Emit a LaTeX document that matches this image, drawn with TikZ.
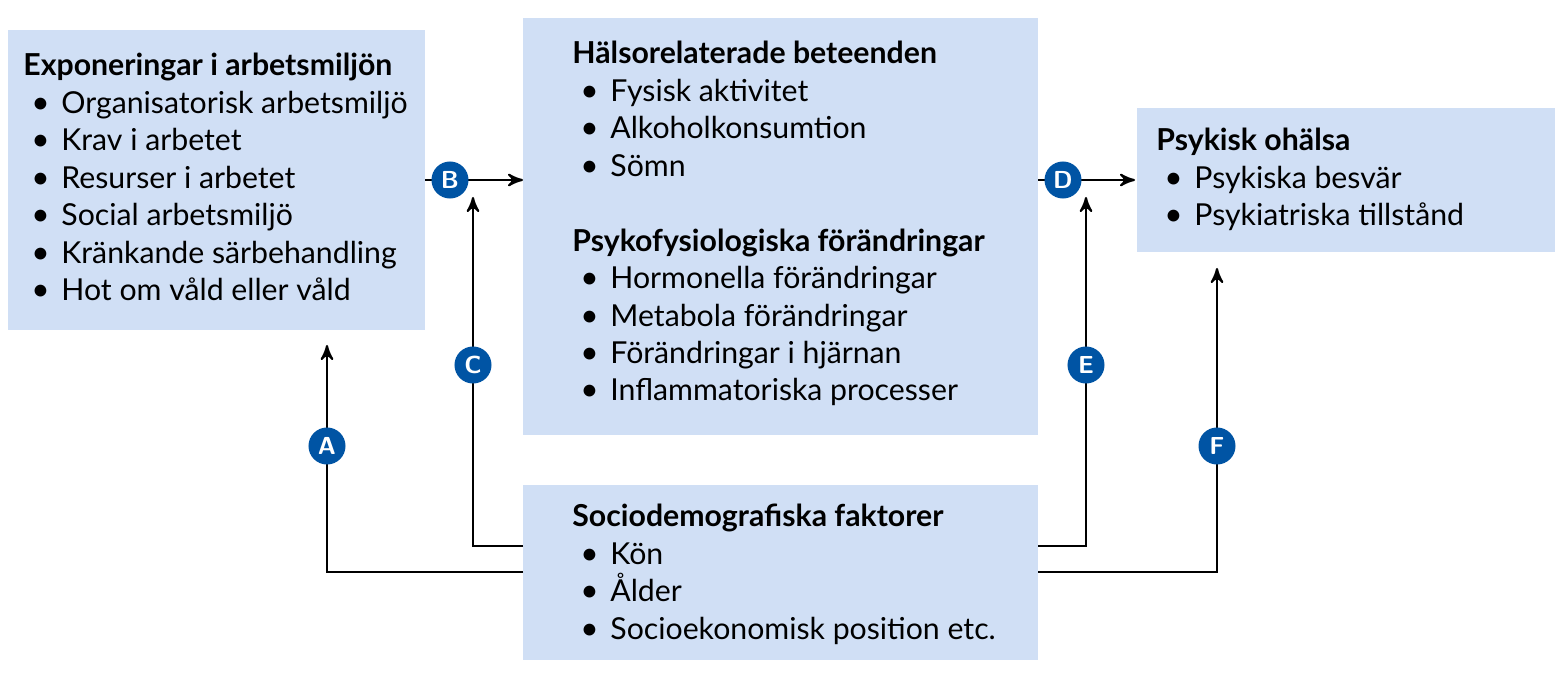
\documentclass[tikz,border=0pt]{standalone}
\usepackage{fontspec}
\setmainfont{Lato}
\usetikzlibrary{arrows}
\definecolor{boxblue}{RGB}{208,223,245}
\definecolor{dotblue}{RGB}{0,84,164}
\newcommand{\bul}{\hspace*{0.08cm}\makebox[0.30cm][l]{\small\textbullet}}
\begin{document}
\begin{tikzpicture}[x=0.01cm,y=-0.01cm,>=stealth',thick,
  box node/.style={fill=boxblue,draw=none},
  txt node/.style={anchor=north west,inner sep=0pt,align=left,font=\fontsize{8.6}{10.65}\selectfont},
  dot node/.style={circle,fill=dotblue,text=white,inner sep=0pt,minimum size=0.37cm,font=\sffamily\scriptsize\bfseries},
  link/.style={->,semithick}]
  \useasboundingbox (0,0) rectangle (1563,679);

  % boxes
  \fill[boxblue] (8,30) rectangle (425,330);
  \fill[boxblue] (523,18) rectangle (1038,435);
  \fill[boxblue] (1137,108) rectangle (1555,252);
  \fill[boxblue] (523,485) rectangle (1038,660);
  \coordinate (expo) at (425,180);
  \coordinate (beh) at (523,180);
  \coordinate (behr) at (1038,180);
  \coordinate (psy) at (1135,180);

  \node[txt node] (t1) at (22,52) {\textbf{Exponeringar i arbetsmiljön}\\
    \bul Organisatorisk arbetsmiljö\\ \bul Krav i arbetet\\ \bul Resurser i arbetet\\
    \bul Social arbetsmiljö\\ \bul Kränkande särbehandling\\ \bul Hot om våld eller våld};
  \node[txt node] (t2) at (571,40) {\textbf{Hälsorelaterade beteenden}\\
    \bul Fysisk aktivitet\\ \bul Alkoholkonsumtion\\ \bul Sömn\\[\baselineskip]
    \textbf{Psykofysiologiska förändringar}\\
    \bul Hormonella förändringar\\ \bul Metabola förändringar\\
    \bul Förändringar i hjärnan\\ \bul Inflammatoriska processer};
  \node[txt node] (t3) at (1155,127) {\textbf{Psykisk ohälsa}\\
    \bul Psykiska besvär\\ \bul Psykiatriska tillstånd};
  \node[txt node] (t4) at (571,503) {\textbf{Sociodemografiska faktorer}\\
    \bul Kön\\ \bul Ålder\\ \bul Socioekonomisk position etc.};

  % connectors
  \draw[link] (expo) -- (beh);
  \draw[link] (behr) -- (psy);
  \coordinate (c0) at (523,546); \coordinate (c1) at (473,197);
  \coordinate (e0) at (1038,546); \coordinate (e1) at (1086,197);
  \coordinate (a0) at (523,572); \coordinate (a1) at (327,345);
  \coordinate (f0) at (1038,572); \coordinate (f1) at (1217,268);
  \draw[link] (c0) -| (c1);
  \draw[link] (e0) -| (e1);
  \draw[link] (a0) -| (a1);
  \draw[link] (f0) -| (f1);

  % markers
  \node[dot node] (A) at (327,446) {A};
  \node[dot node] (B) at (450,180) {B};
  \node[dot node] (C) at (473,365) {C};
  \node[dot node] (D) at (1063,180) {D};
  \node[dot node] (E) at (1086,365) {E};
  \node[dot node] (F) at (1217,446) {F};
\end{tikzpicture}
\end{document}
